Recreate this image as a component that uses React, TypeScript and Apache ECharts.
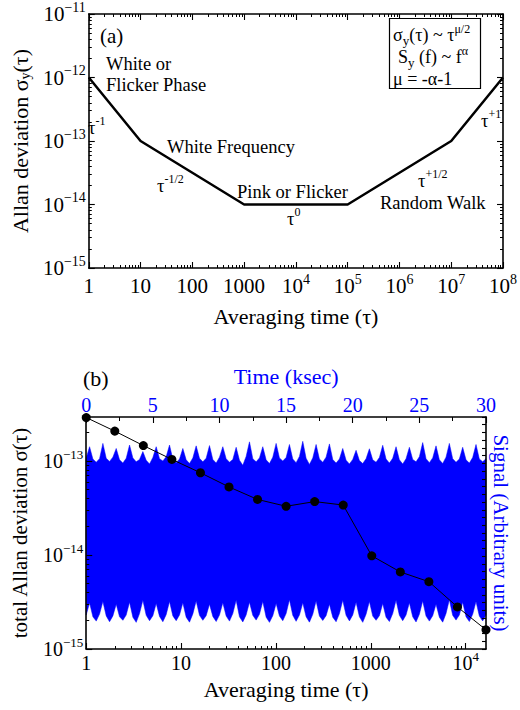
import React, { useEffect, useRef } from 'react';
import * as echarts from 'echarts';

const FONT = "'Liberation Serif', 'Times New Roman', Times, serif";
const BLUE = '#0000ff';
const BLACK = '#000000';

// ---------- Panel (a): ideal Allan deviation regimes ----------
const A_TAU = [1, 10, 1000, 1e5, 1e7, 1e8];
const A_SIGMA = [1e-12, 1e-13, 1e-14, 1e-14, 1e-13, 1e-12];
const A_X_TICKS = [1, 10, 100, 1000, 1e4, 1e5, 1e6, 1e7, 1e8];
const A_X_TICK_LABELS = ['1', '10', '100', '1000', '10^4', '10^5', '10^6', '10^7', '10^8'];
const A_Y_TICKS = [1e-15, 1e-14, 1e-13, 1e-12, 1e-11];
const A_Y_TICK_LABELS = ['10^-15', '10^-14', '10^-13', '10^-12', '10^-11'];

// ---------- Panel (b): measured total Allan deviation ----------
const B_TAU = [1, 2, 4, 8, 16, 32, 64, 128, 256, 512, 1024, 2048, 4096, 8192, 16384];
const B_SIGMA = [
  2.9e-13, 2.08e-13, 1.46e-13, 1.04e-13, 7.5e-14, 5.3e-14, 3.9e-14, 3.3e-14,
  3.7e-14, 3.4e-14, 9.8e-15, 6.6e-15, 5.2e-15, 2.8e-15, 1.6e-15,
];
const B_X_TICKS = [1, 10, 100, 1000, 1e4];
const B_X_TICK_LABELS = ['1', '10', '100', '1000', '10^4'];
const B_Y_TICKS = [1e-15, 1e-14, 1e-13];
const B_Y_TICK_LABELS = ['10^-15', '10^-14', '10^-13'];
const B_Y_MAX = 2.94e-13;
const B_TIME_TICKS = [0, 5, 10, 15, 20, 25, 30];
const B_TIME_MINOR = [2.5, 7.5, 12.5, 17.5, 22.5, 27.5];

// Signal band (time in ksec on top axis), envelope
const SIGNAL_STEP_KSEC = 0.25;
const SIGNAL_UPPER_E13 = [
  1.08, 1.42, 1.05, 0.97, 1.06, 1.54, 1.07, 0.99, 1.10, 1.36, 1.03, 0.95,
  1.07, 1.48, 1.08, 0.98, 1.04, 1.26, 1.02, 0.93, 1.09, 1.42, 1.06, 1.00,
  1.11, 1.48, 1.04, 0.96, 1.05, 1.36, 1.03, 0.94, 1.08, 1.45, 1.07, 0.98,
  1.07, 1.46, 1.04, 0.95, 1.10, 1.42, 1.06, 0.97, 1.04, 1.40, 1.02, 0.90,
  1.12, 1.60, 1.06, 0.98, 1.08, 1.42, 1.03, 0.94, 1.10, 1.54, 1.08, 1.00,
  1.09, 1.50, 1.05, 0.96, 1.12, 1.62, 1.07, 0.92, 1.08, 1.50, 1.05, 0.97,
  1.10, 1.52, 1.04, 0.95, 1.05, 1.36, 1.02, 0.93, 1.04, 1.30, 1.01, 0.94,
  1.06, 1.35, 1.03, 0.97, 1.09, 1.47, 1.05, 0.95, 1.07, 1.42, 1.03, 0.93,
  1.06, 1.40, 1.04, 0.98, 1.11, 1.57, 1.06, 0.96, 1.08, 1.45, 1.03, 0.94,
  1.10, 1.54, 1.06, 0.97, 1.05, 1.40, 1.03, 0.95, 1.09, 1.50, 1.05, 0.98,
  1.06,
];
const SIGNAL_LOWER_E15 = [
  2.30, 3.10, 2.20, 1.98, 2.35, 3.20, 2.25, 1.95, 2.25, 3.00, 2.20, 2.02,
  2.30, 3.15, 2.18, 1.92, 2.38, 3.30, 2.28, 2.00, 2.26, 3.05, 2.22, 1.95,
  2.32, 3.20, 2.25, 2.00, 2.30, 3.10, 2.18, 1.93, 2.36, 3.25, 2.28, 2.02,
  2.26, 3.00, 2.22, 1.96, 2.30, 3.10, 2.24, 1.98, 2.38, 3.30, 2.20, 1.94,
  2.30, 3.15, 2.28, 2.03, 2.34, 3.20, 2.18, 1.92, 2.26, 3.05, 2.24, 2.00,
  2.38, 3.35, 2.28, 1.97, 2.30, 3.10, 2.20, 1.93, 2.34, 3.25, 2.24, 2.01,
  2.26, 3.00, 2.18, 1.95, 2.38, 3.30, 2.28, 1.99, 2.30, 3.15, 2.20, 1.92,
  2.34, 3.20, 2.24, 2.02, 2.26, 3.05, 2.18, 1.96, 2.38, 3.30, 2.28, 2.00,
  2.30, 3.10, 2.20, 1.94, 2.34, 3.25, 2.24, 1.98, 2.26, 3.00, 2.18, 1.93,
  2.38, 3.35, 2.28, 2.03, 2.30, 3.15, 2.20, 1.96, 2.34, 3.20, 2.24, 1.99,
  2.30,
];

const lg = (v: number) => Math.log10(v);

function minorLogTicks(minExp: number, maxExp: number): number[] {
  const out: number[] = [];
  for (let k = Math.floor(minExp); k <= Math.ceil(maxExp); k++) {
    for (let m = 2; m <= 9; m++) {
      const v = k + Math.log10(m);
      if (v > minExp && v < maxExp) out.push(v);
    }
  }
  return out;
}

function toRich(label: string): string {
  if (label.indexOf('^') < 0) return `{b|${label}}`;
  const [base, exp] = label.split('^');
  return `{b|${base}}{s|${exp.replace('-', '\u2212')}}`;
}

function labelFormatter(ticks: number[], labels: string[]) {
  return (value: number) => {
    for (let i = 0; i < ticks.length; i++) {
      if (Math.abs(lg(ticks[i]) - value) < 1e-6) return toRich(labels[i]);
    }
    return '';
  };
}

function tickRich(size: number, lineH: number, supSize: number, color = BLACK) {
  return {
    b: { fontSize: size, lineHeight: lineH, fontFamily: FONT, color },
    s: { fontSize: supSize, lineHeight: supSize, verticalAlign: 'top', fontFamily: FONT, color },
  };
}

function baseAxis(gridIndex: number, min: number, max: number, position: string): any {
  return {
    type: 'value',
    gridIndex,
    min,
    max,
    position,
    z: 10,
    splitLine: { show: false },
    axisLine: { show: false, onZero: false },
    axisTick: { show: false },
    axisLabel: { show: false },
  };
}

function majorAxis(gridIndex: number, min: number, max: number, position: string, ticks: number[], len = 6): any {
  const a = baseAxis(gridIndex, min, max, position);
  a.axisLine = { show: true, onZero: false, lineStyle: { color: BLACK, width: 1.6 } };
  a.axisTick = { show: true, inside: true, length: len, customValues: ticks, lineStyle: { color: BLACK, width: 1.1 } };
  return a;
}

function minorAxis(gridIndex: number, min: number, max: number, position: string, ticks: number[], len = 3): any {
  const a = baseAxis(gridIndex, min, max, position);
  a.axisTick = { show: true, inside: true, length: len, customValues: ticks, lineStyle: { color: BLACK, width: 1 } };
  return a;
}

const supStyle = { fontSize: 12, lineHeight: 12, verticalAlign: 'top', fontFamily: FONT, fill: BLACK, color: BLACK };
const subStyle = { fontSize: 13, lineHeight: 13, verticalAlign: 'bottom', fontFamily: FONT, fill: BLACK, color: BLACK };

function txt(x: number, y: number, text: string, size = 18.5, lineHeight = 26): any {
  return {
    type: 'text',
    x,
    y,
    z: 20,
    style: {
      text,
      fontSize: size,
      fontFamily: FONT,
      fill: BLACK,
      lineHeight,
      align: 'left',
      textAlign: 'left',
      verticalAlign: 'middle',
      textVerticalAlign: 'middle',
      rich: { s: supStyle, u: subStyle },
    },
  };
}

export default function App() {
  const ref = useRef<HTMLDivElement>(null);

  useEffect(() => {
    if (!ref.current) return;
    const chart = echarts.init(ref.current, undefined, { renderer: 'svg' });

    const aXMin = lg(A_X_TICKS[0]);
    const aXMax = lg(A_X_TICKS[A_X_TICKS.length - 1]);
    const aYMin = lg(A_Y_TICKS[0]);
    const aYMax = lg(A_Y_TICKS[A_Y_TICKS.length - 1]);
    const bXMin = lg(B_TAU[0]);
    const bXMax = lg(B_TAU[B_TAU.length - 1]);
    const bYMin = lg(B_Y_TICKS[0]);
    const bYMax = lg(B_Y_MAX);

    const aXMaj = A_X_TICKS.map(lg);
    const aYMaj = A_Y_TICKS.map(lg);
    const aXMin2 = minorLogTicks(aXMin, aXMax);
    const aYMin2 = minorLogTicks(aYMin, aYMax);
    const bXMaj = B_X_TICKS.map(lg);
    const bYMaj = B_Y_TICKS.map(lg);
    const bXMin2 = minorLogTicks(bXMin, bXMax);
    const bYMin2 = minorLogTicks(bYMin, bYMax);

    const signalData = SIGNAL_UPPER_E13.map((u, i) => [
      i * SIGNAL_STEP_KSEC,
      lg(u * 1e-13),
      lg(SIGNAL_LOWER_E15[i] * 1e-15),
    ]);

    // x axes
    const xA0 = majorAxis(0, aXMin, aXMax, 'bottom', aXMaj);
    xA0.axisLabel = {
      show: true,
      customValues: aXMaj,
      margin: 4,
      formatter: labelFormatter(A_X_TICKS, A_X_TICK_LABELS),
      rich: tickRich(21, 28, 14),
    };
    xA0.name = 'Averaging time (\u03c4)';
    xA0.nameLocation = 'middle';
    xA0.nameGap = 36;
    xA0.nameTextStyle = { fontSize: 22, lineHeight: 24, fontFamily: FONT, color: BLACK };
    const xA1 = minorAxis(0, aXMin, aXMax, 'bottom', aXMin2);
    const xA2 = majorAxis(0, aXMin, aXMax, 'top', aXMaj);
    const xA3 = minorAxis(0, aXMin, aXMax, 'top', aXMin2);

    const xB0 = majorAxis(1, bXMin, bXMax, 'bottom', bXMaj);
    xB0.axisLabel = {
      show: true,
      customValues: bXMaj,
      margin: 1,
      formatter: labelFormatter(B_X_TICKS, B_X_TICK_LABELS),
      rich: tickRich(20, 26, 13),
    };
    xB0.name = 'Averaging time (\u03c4)';
    xB0.nameLocation = 'middle';
    xB0.nameGap = 28;
    xB0.nameTextStyle = { fontSize: 22, lineHeight: 24, fontFamily: FONT, color: BLACK };
    const xB1 = minorAxis(1, bXMin, bXMax, 'bottom', bXMin2);
    const xB2 = majorAxis(1, B_TIME_TICKS[0], B_TIME_TICKS[B_TIME_TICKS.length - 1], 'top', B_TIME_TICKS);
    xB2.axisLabel = {
      show: true,
      customValues: B_TIME_TICKS,
      margin: 2,
      fontSize: 20,
      lineHeight: 20,
      fontFamily: FONT,
      color: BLUE,
    };
    xB2.name = 'Time (ksec)';
    xB2.nameLocation = 'middle';
    xB2.nameGap = 29;
    xB2.nameTextStyle = { fontSize: 22, lineHeight: 24, fontFamily: FONT, color: BLUE };
    const xB3 = minorAxis(1, B_TIME_TICKS[0], B_TIME_TICKS[B_TIME_TICKS.length - 1], 'top', B_TIME_MINOR, 4);

    // y axes
    const yA0 = majorAxis(0, aYMin, aYMax, 'left', aYMaj);
    yA0.axisLabel = {
      show: true,
      customValues: aYMaj,
      margin: 3,
      formatter: labelFormatter(A_Y_TICKS, A_Y_TICK_LABELS),
      rich: tickRich(21, 28, 14),
    };
    yA0.name = 'Allan deviation \u03c3{u|y}(\u03c4)';
    yA0.nameLocation = 'middle';
    yA0.nameGap = 50;
    yA0.nameTextStyle = {
      fontSize: 22, lineHeight: 24, fontFamily: FONT, color: BLACK,
      rich: { u: { fontSize: 14, lineHeight: 14, verticalAlign: 'bottom', fontFamily: FONT, color: BLACK } },
    };
    const yA1 = minorAxis(0, aYMin, aYMax, 'left', aYMin2);
    const yA2 = majorAxis(0, aYMin, aYMax, 'right', aYMaj);
    const yA3 = minorAxis(0, aYMin, aYMax, 'right', aYMin2);

    const yB0 = majorAxis(1, bYMin, bYMax, 'left', bYMaj);
    yB0.axisLabel = {
      show: true,
      customValues: bYMaj,
      margin: 3,
      formatter: labelFormatter(B_Y_TICKS, B_Y_TICK_LABELS),
      rich: tickRich(20, 26, 13),
    };
    yB0.name = 'total Allan deviation \u03c3(\u03c4)';
    yB0.nameLocation = 'middle';
    yB0.nameGap = 44;
    yB0.nameTextStyle = { fontSize: 21, lineHeight: 24, fontFamily: FONT, color: BLACK };
    const yB1 = minorAxis(1, bYMin, bYMax, 'left', bYMin2);
    const rightTicks: number[] = [];
    for (let i = 0; i <= 30; i++) rightTicks.push(i);
    const yB2 = majorAxis(1, 0, 30, 'right', rightTicks, 4);
    yB2.name = 'Signal (Arbitrary units)';
    yB2.nameLocation = 'middle';
    yB2.nameGap = 4;
    yB2.nameRotate = -90;
    yB2.nameTextStyle = { fontSize: 21, lineHeight: 22, fontFamily: FONT, color: BLUE };

    const option: any = {
      animation: false,
      backgroundColor: '#ffffff',
      textStyle: { fontFamily: FONT },
      grid: [
        { left: 85, top: 12, width: 424, height: 256, containLabel: false },
        { left: 80, top: 417, width: 409, height: 232, containLabel: false },
      ],
      xAxis: [xA0, xA1, xA2, xA3, xB0, xB1, xB2, xB3],
      yAxis: [yA0, yA1, yA2, yA3, yB0, yB1, yB2],
      series: [
        {
          type: 'line',
          xAxisIndex: 0,
          yAxisIndex: 0,
          data: A_TAU.map((t, i) => [lg(t), lg(A_SIGMA[i])]),
          symbol: 'none',
          lineStyle: { color: BLACK, width: 2.5 },
          z: 5,
          silent: true,
        },
        {
          type: 'custom',
          xAxisIndex: 6,
          yAxisIndex: 4,
          data: signalData,
          encode: { x: 0, y: [1, 2] },
          z: 1,
          silent: true,
          renderItem: (params: any, api: any) => {
            if (params.dataIndex !== 0) return null;
            const pts: number[][] = [];
            for (let i = 0; i < signalData.length; i++) {
              pts.push(api.coord([signalData[i][0], signalData[i][1]]));
            }
            for (let i = signalData.length - 1; i >= 0; i--) {
              pts.push(api.coord([signalData[i][0], signalData[i][2]]));
            }
            return {
              type: 'polygon',
              shape: { points: pts },
              style: { fill: BLUE, stroke: BLUE, lineWidth: 0.5 },
            };
          },
        },
        {
          type: 'line',
          xAxisIndex: 4,
          yAxisIndex: 4,
          data: B_TAU.map((t, i) => [lg(t), lg(B_SIGMA[i])]),
          symbol: 'circle',
          symbolSize: 9,
          showSymbol: true,
          itemStyle: { color: BLACK },
          lineStyle: { color: BLACK, width: 1 },
          z: 5,
          silent: true,
        },
      ],
      graphic: {
        elements: [
          txt(100, 36, '(a)', 21),
          txt(106, 64, 'White or'),
          txt(106, 85, 'Flicker Phase'),
          txt(88, 128, '\u03c4{s|-1}'),
          txt(167, 147, 'White Frequency'),
          txt(157, 186, '\u03c4{s|-1/2}'),
          txt(237, 192, 'Pink or Flicker'),
          txt(287, 219, '\u03c4{s|0}'),
          txt(418, 181, '\u03c4{s|+1/2}'),
          txt(380, 203, 'Random Walk'),
          txt(481, 121, '\u03c4{s|+1}'),
          {
            type: 'rect',
            z: 19,
            shape: { x: 389.5, y: 18.5, width: 91, height: 70 },
            style: { fill: '#ffffff', stroke: BLACK, lineWidth: 1.2 },
          },
          txt(393, 35, '\u03c3{u|y}(\u03c4) ~ \u03c4{s|\u03bc/2}', 18, 24),
          txt(398, 57, 'S{u|y} (f) ~ f{s|\u03b1}', 18, 24),
          txt(393, 79, '\u03bc = -\u03b1-1', 18, 24),
          txt(83, 378, '(b)', 22),
        ],
      },
    };

    chart.setOption(option);
    return () => chart.dispose();
  }, []);

  return (
    <div
      ref={ref}
      style={{ position: 'fixed', left: 0, top: 0, width: 520, height: 710, background: '#ffffff' }}
    />
  );
}
